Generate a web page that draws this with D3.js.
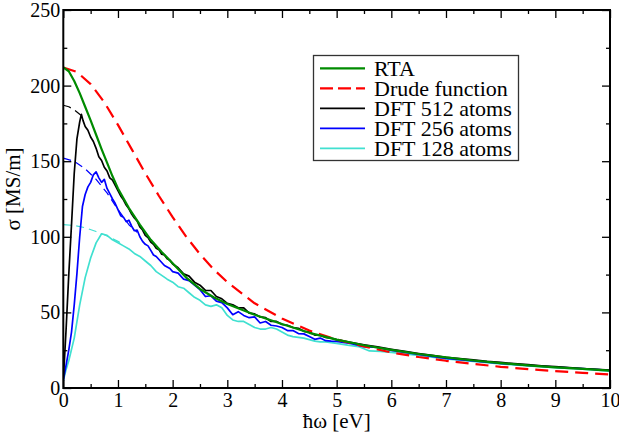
<!DOCTYPE html>
<html>
<head>
<meta charset="utf-8">
<script src="https://cdn.jsdelivr.net/npm/d3@7"></script>
<style>
  @font-face { font-family: "ChartSerif"; src: local("Liberation Serif"), local("LiberationSerif"), local("LiberationSerif-Regular"), local("Times New Roman"); }
  body { margin: 0; font-family: "Liberation Serif", "Times New Roman", serif; }
</style>
</head>
<body>
<svg id="chart" width="619" height="436"></svg>
<script>
// Optical conductivity sigma(hbar*omega): RTA, Drude fit and DFT (Kubo-Greenwood) results

const xTicks = [0, 1, 2, 3, 4, 5, 6, 7, 8, 9, 10];
const yTicks = [0, 50, 100, 150, 200, 250];

// RTA
const rtaE = [0, 0.1, 0.2, 0.3, 0.4, 0.5, 0.6, 0.7, 0.8, 0.9, 1.0, 1.2, 1.4, 1.6, 1.8, 2.0, 2.25, 2.5, 2.75, 3.0, 3.5, 4.0, 4.5, 5.0, 5.5, 6.0, 6.5, 7.0, 7.5, 8.0, 8.5, 9.0, 9.5, 10];
const rtaSigma = [212, 209.5, 203, 195, 186, 177, 167.5, 158, 149, 140, 132, 119, 108, 98, 90, 82.5, 73, 65.5, 60, 55.5, 48.5, 42.3, 36.5, 32, 28.3, 25.2, 22.5, 20.2, 18.2, 16.5, 15, 13.7, 12.6, 11.5];

// Drude function
const drudeE = [0, 0.25, 0.5, 0.75, 1.0, 1.25, 1.5, 1.75, 2.0, 2.25, 2.5, 2.75, 3.0, 3.5, 4.0, 4.5, 5.0, 5.5, 6.0, 6.5, 7.0, 7.5, 8.0, 8.5, 9.0, 9.5, 10];
const drudeSigma = [212, 209, 201, 189, 174, 158, 142, 127, 113, 100, 88.5, 78.5, 70, 56, 46, 38, 32, 27.5, 23.5, 20.5, 18, 16, 14, 12.5, 11.2, 10, 9];

// DFT 512 atoms
const dft512E = [0, 0.05, 0.1, 0.15, 0.2, 0.25, 0.3, 0.33, 0.36, 0.4, 0.45, 0.5, 0.55, 0.6, 0.65, 0.7, 0.75, 0.8, 0.85, 0.9, 0.95, 1.0, 1.05, 1.1, 1.15, 1.2, 1.25, 1.3, 1.35, 1.4, 1.45, 1.5, 1.55, 1.6, 1.65, 1.7, 1.75, 1.8, 1.85, 1.9, 1.95, 2.0, 2.1, 2.2, 2.3, 2.4, 2.5, 2.6, 2.7, 2.8, 2.9, 3.0, 3.1, 3.2, 3.3, 3.4, 3.5, 3.6, 3.7, 3.8, 3.9, 4.0, 4.1, 4.2, 4.3, 4.4, 4.5, 4.6, 4.7, 4.8, 4.9, 5.0, 5.25, 5.5, 5.75, 6.0, 6.25, 6.5, 6.75, 7.0, 7.25, 7.5, 7.75, 8.0, 8.25, 8.5, 8.75, 9.0, 9.25, 9.5, 9.75, 10];
const dft512Sigma = [5, 38, 75, 108, 142, 165, 176, 181, 177, 173, 170.5, 166, 163, 158.5, 153, 150.5, 146, 143.5, 139, 137.5, 134, 130.5, 127, 124.5, 121, 118.5, 115, 112.5, 110.5, 106.5, 104.5, 101, 99.5, 96.5, 95, 92.5, 91.5, 88.5, 88, 85.5, 84.5, 82, 79.5, 75.5, 74, 70, 68, 64.5, 64.5, 60.5, 59, 56, 55, 53, 53, 49.5, 49, 47, 46.5, 44, 44, 42, 41.5, 40, 39.5, 37.5, 37, 35, 35, 33.5, 33, 32, 30.2, 28.6, 27.2, 25.6, 24.2, 22.8, 21.6, 20.3, 19.4, 18.6, 17.6, 16.9, 16.1, 15.4, 14.7, 14.1, 13.5, 12.9, 12.3, 11.8];
const dft512ExtE = [0, 0.1, 0.2, 0.3, 0.34];
const dft512ExtSigma = [187, 186, 184, 181, 180];

// DFT 256 atoms
const dft256E = [0, 0.05, 0.1, 0.15, 0.2, 0.25, 0.3, 0.35, 0.4, 0.45, 0.5, 0.55, 0.6, 0.65, 0.7, 0.75, 0.8, 0.85, 0.9, 0.95, 1.0, 1.05, 1.1, 1.15, 1.2, 1.25, 1.3, 1.35, 1.4, 1.45, 1.5, 1.55, 1.6, 1.65, 1.7, 1.75, 1.8, 1.85, 1.9, 1.95, 2.0, 2.1, 2.2, 2.3, 2.4, 2.5, 2.6, 2.7, 2.8, 2.9, 3.0, 3.1, 3.2, 3.3, 3.4, 3.5, 3.6, 3.7, 3.8, 3.9, 4.0, 4.1, 4.2, 4.3, 4.4, 4.5, 4.6, 4.7, 4.8, 4.9, 5.0, 5.25, 5.5, 5.75, 6.0, 6.5, 7.0, 7.5, 8.0, 8.5, 9.0, 9.5, 10];
const dft256Sigma = [5, 15, 25, 37, 55, 76, 100, 120, 128, 133, 136, 141, 143, 139, 136, 138, 132, 128.5, 125, 122, 118, 114, 113, 110, 111, 107, 104, 104.5, 100, 97, 95, 94, 91, 88, 87, 85, 83, 81, 80, 79, 77, 76, 72, 71, 68, 65, 60.5, 61, 57.5, 56.5, 53, 48.5, 50.5, 48, 46.5, 47, 43, 44, 41.5, 41, 40, 38, 38, 36, 35.8, 34, 32.2, 33, 31.3, 31, 30.8, 29.5, 27.3, 26.8, 24.8, 22.2, 19.6, 18, 16.3, 15, 13.8, 12.8, 11.6];
const dft256ExtE = [0, 0.2, 0.4, 0.6, 0.8, 1.0, 1.2, 1.35];
const dft256ExtSigma = [152, 150, 145, 138, 129, 118, 108, 103];

// DFT 128 atoms
const dft128E = [0, 0.05, 0.1, 0.2, 0.3, 0.4, 0.5, 0.6, 0.7, 0.8, 0.9, 1.0, 1.1, 1.2, 1.3, 1.4, 1.5, 1.6, 1.7, 1.8, 1.9, 2.0, 2.1, 2.2, 2.3, 2.4, 2.5, 2.6, 2.7, 2.8, 2.9, 3.0, 3.1, 3.2, 3.3, 3.4, 3.5, 3.6, 3.7, 3.8, 3.9, 4.0, 4.1, 4.2, 4.3, 4.4, 4.5, 4.6, 4.7, 4.8, 4.9, 5.0, 5.2, 5.4, 5.6, 5.8, 6.0, 6.5, 7.0, 7.5, 8.0, 8.5, 9.0, 9.5, 10];
const dft128Sigma = [5, 12, 18, 33, 55, 73, 86, 96, 102, 101, 98, 96, 94, 92, 89, 87, 84, 81, 77, 74.5, 72, 70, 67, 66, 63, 60, 58, 55, 54, 55, 53, 48, 45, 44, 44, 42, 40, 39, 39, 40, 39, 37, 35, 34, 33.5, 33, 32, 31, 30.5, 30.5, 30, 29.5, 28.3, 27.4, 24.5, 24.2, 23.5, 21.5, 19.2, 17.6, 16, 14.6, 13.5, 12.4, 11.2];
const dft128ExtE = [0, 0.2, 0.4, 0.6, 0.8, 1.0, 1.1];
const dft128ExtSigma = [108, 107.5, 106, 103.5, 100.5, 97, 95];

const legendLabels = ["RTA", "Drude function", "DFT 512 atoms", "DFT 256 atoms", "DFT 128 atoms"];
const colors = { rta: "#008b00", drude: "#ff0000", d512: "#000000", d256: "#0000ff", d128: "#40e0d0" };

const FONT = '"Liberation Serif", ChartSerif, "Times New Roman", serif';

const svg = d3.select("#chart");
const plotLeft = 63.3, plotRight = 610, plotTop = 10, plotBottom = 388;

const x = d3.scaleLinear().domain([0, 10]).range([plotLeft, plotRight]);
const y = d3.scaleLinear().domain([0, 250]).range([plotBottom, plotTop]);

svg.append("clipPath").attr("id", "plotclip")
  .append("rect").attr("x", plotLeft).attr("y", plotTop)
  .attr("width", plotRight - plotLeft).attr("height", plotBottom - plotTop);

const line = d3.line().x(d => x(d[0])).y(d => y(d[1]));
const zip = (a, b) => a.map((v, i) => [v, b[i]]);

const curves = svg.append("g").attr("clip-path", "url(#plotclip)");

function draw(e, s, color, width, dash) {
  curves.append("path")
    .datum(zip(e, s))
    .attr("d", line)
    .attr("fill", "none")
    .attr("stroke", color)
    .attr("stroke-width", width)
    .attr("stroke-linejoin", "round")
    .attr("stroke-dasharray", dash || null);
}

draw(dft128ExtE, dft128ExtSigma, colors.d128, 1.2, "8,5");
draw(dft256ExtE, dft256ExtSigma, colors.d256, 1.2, "8,5");
draw(dft512ExtE, dft512ExtSigma, colors.d512, 1.2, "8,5");
draw(dft128E, dft128Sigma, colors.d128, 1.7);
draw(dft256E, dft256Sigma, colors.d256, 1.7);
draw(dft512E, dft512Sigma, colors.d512, 1.7);
draw(drudeE, drudeSigma, colors.drude, 2.2, "13,7");
draw(rtaE, rtaSigma, colors.rta, 2.2);

// Axes with inward ticks on all four sides
const minorX = d3.range(0.5, 10, 1);
const minorY = d3.range(25, 250, 50);

function styleAxis(g) {
  g.attr("font-family", null).attr("font-size", null);
  g.select(".domain").remove();
  g.selectAll(".tick line").attr("stroke", "#000").attr("stroke-width", 1.3);
  g.selectAll(".tick text").attr("fill", "#000").attr("font-size", 20);
}

svg.append("g").attr("transform", `translate(0,${plotBottom})`)
  .call(d3.axisBottom(x).tickValues(xTicks).tickFormat(d3.format("d")).tickSize(-8).tickPadding(5))
  .call(styleAxis);
svg.append("g").attr("transform", `translate(0,${plotBottom})`)
  .call(d3.axisBottom(x).tickValues(minorX).tickFormat("").tickSize(-4))
  .call(styleAxis);
svg.append("g").attr("transform", `translate(0,${plotTop})`)
  .call(d3.axisTop(x).tickValues(xTicks).tickFormat("").tickSize(-8))
  .call(styleAxis);
svg.append("g").attr("transform", `translate(0,${plotTop})`)
  .call(d3.axisTop(x).tickValues(minorX).tickFormat("").tickSize(-4))
  .call(styleAxis);
svg.append("g").attr("transform", `translate(${plotLeft},0)`)
  .call(d3.axisLeft(y).tickValues(yTicks).tickFormat(d3.format("d")).tickSize(-8).tickPadding(3))
  .call(styleAxis);
svg.append("g").attr("transform", `translate(${plotLeft},0)`)
  .call(d3.axisLeft(y).tickValues(minorY).tickFormat("").tickSize(-4))
  .call(styleAxis);
svg.append("g").attr("transform", `translate(${plotRight},0)`)
  .call(d3.axisRight(y).tickValues(yTicks).tickFormat("").tickSize(-8))
  .call(styleAxis);
svg.append("g").attr("transform", `translate(${plotRight},0)`)
  .call(d3.axisRight(y).tickValues(minorY).tickFormat("").tickSize(-4))
  .call(styleAxis);

// Frame
svg.append("rect")
  .attr("x", plotLeft).attr("y", plotTop)
  .attr("width", plotRight - plotLeft).attr("height", plotBottom - plotTop)
  .attr("fill", "none").attr("stroke", "#000").attr("stroke-width", 2);

// Axis titles
svg.append("text")
  .attr("x", (plotLeft + plotRight) / 2).attr("y", 428)
  .attr("text-anchor", "middle").attr("font-size", 21)
  .text("ħω [eV]");
svg.append("text")
  .attr("transform", "translate(20,189) rotate(-90)")
  .attr("text-anchor", "middle").attr("font-size", 21)
  .text("σ [MS/m]");

// Legend
const legend = svg.append("g");
legend.append("rect")
  .attr("x", 313.5).attr("y", 55.5).attr("width", 205).attr("height", 105)
  .attr("fill", "#fff").attr("stroke", "#333").attr("stroke-width", 1.3);
const legendStyles = [
  { c: colors.rta, w: 2.2, d: null },
  { c: colors.drude, w: 2.2, d: "13,5" },
  { c: colors.d512, w: 1.7, d: null },
  { c: colors.d256, w: 1.7, d: null },
  { c: colors.d128, w: 1.7, d: null }
];
legendLabels.forEach((lab, i) => {
  const ly = 68.3 + i * 20;
  legend.append("line")
    .attr("x1", 320).attr("x2", 365).attr("y1", ly).attr("y2", ly)
    .attr("stroke", legendStyles[i].c).attr("stroke-width", legendStyles[i].w)
    .attr("stroke-dasharray", legendStyles[i].d);
  legend.append("text")
    .attr("x", 374).attr("y", ly + 7.5).attr("font-size", 22)
    .text(lab);
});

// Apply the serif face to every label, again once the face has been resolved
function applyFont() {
  svg.selectAll("text").style("font-family", FONT);
}
applyFont();
if (document.fonts && document.fonts.load) {
  document.fonts.load('20px "Liberation Serif"').then(applyFont).catch(() => {});
}
</script>
</body>
</html>
